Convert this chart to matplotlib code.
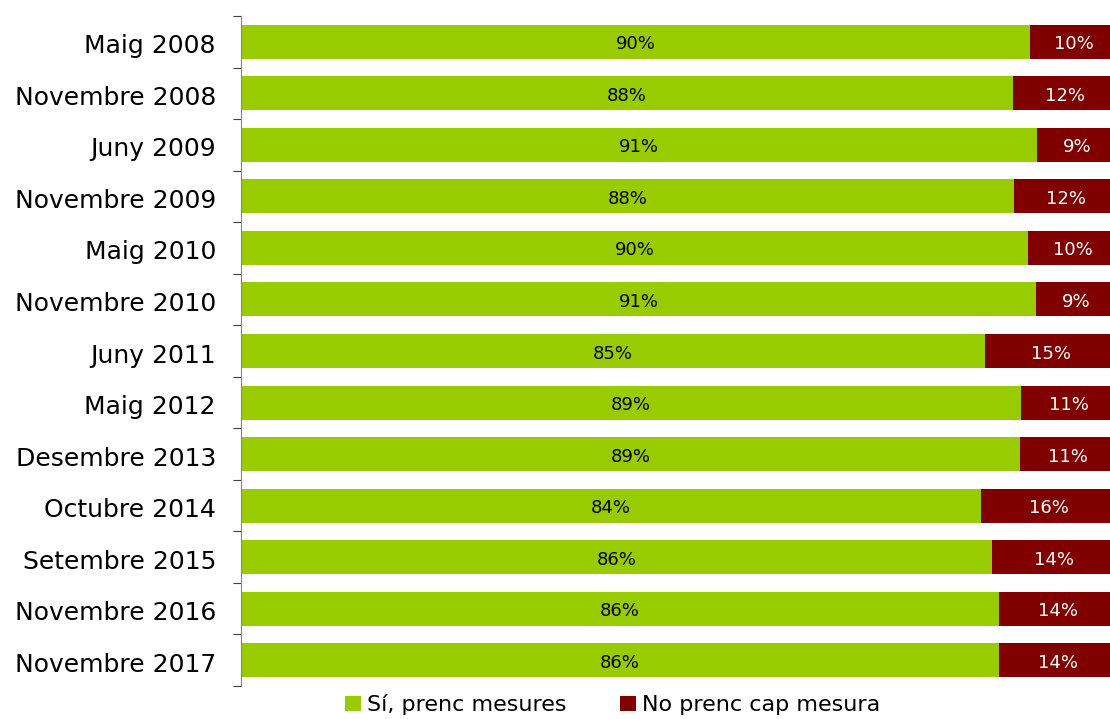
import matplotlib.pyplot as plt
import numpy as np

# onades de l'enquesta, de dalt a baix
onades = ['Maig 2008', 'Novembre 2008', 'Juny 2009', 'Novembre 2009', 'Maig 2010',
          'Novembre 2010', 'Juny 2011', 'Maig 2012', 'Desembre 2013', 'Octubre 2014',
          'Setembre 2015', 'Novembre 2016', 'Novembre 2017']
# percentatges que es mostren a les etiquetes
si_etiqueta = [90, 88, 91, 88, 90, 91, 85, 89, 89, 84, 86, 86, 86]
no_etiqueta = [10, 12, 9, 12, 10, 9, 15, 11, 11, 16, 14, 14, 14]
# proporcio real de la barra (llegida del grafic)
si_barra = [90.8, 88.8, 91.6, 89.0, 90.6, 91.5, 85.6, 89.8, 89.6, 85.2, 86.4, 87.2, 87.2]
no_barra = [100 - v for v in si_barra]

verd = '#99CC00'
granat = '#800000'

fig = plt.figure(figsize=(11.1, 7.19), dpi=100)
ax = fig.add_axes([241 / 1110, 1 - 686 / 719, 1 - 241 / 1110, (686 - 16) / 719])

y = np.arange(len(onades))
b1 = ax.barh(y, si_barra, height=0.66, color=verd, label='Sí, prenc mesures')
b2 = ax.barh(y, no_barra, left=si_barra, height=0.66, color=granat, label='No prenc cap mesura')

for i in range(len(onades)):
    ax.text(si_barra[i] / 2, y[i] + 0.05, f'{si_etiqueta[i]}%', ha='center', va='center',
            fontsize=13, color='black')
    ax.text(si_barra[i] + no_barra[i] / 2 + 0.4, y[i] + 0.05, f'{no_etiqueta[i]}%', ha='center',
            va='center', fontsize=13, color='white')

ax.set_xlim(0, 100)
ax.set_ylim(len(onades) - 0.5, -0.5)
ax.set_xticks([])
ax.set_yticks(np.arange(len(onades) + 1) - 0.5)
ax.set_yticklabels([])
ax.set_yticks(y + 0.04, minor=True)
ax.set_yticklabels(onades, minor=True, fontsize=18)
ax.tick_params(axis='y', which='major', length=6, color='#404040')
ax.tick_params(axis='y', which='minor', length=0, pad=18)
for s in ['top', 'right', 'bottom']:
    ax.spines[s].set_visible(False)
ax.spines['left'].set_color('#868686')

fig.legend(handles=[b1, b2], loc='center', bbox_to_anchor=(0.552, 0.02), ncol=2,
           frameon=False, fontsize=16, handlelength=0.7, handleheight=0.7,
           handletextpad=0.3, columnspacing=2.4)

fig.savefig('out.png', dpi=100)
